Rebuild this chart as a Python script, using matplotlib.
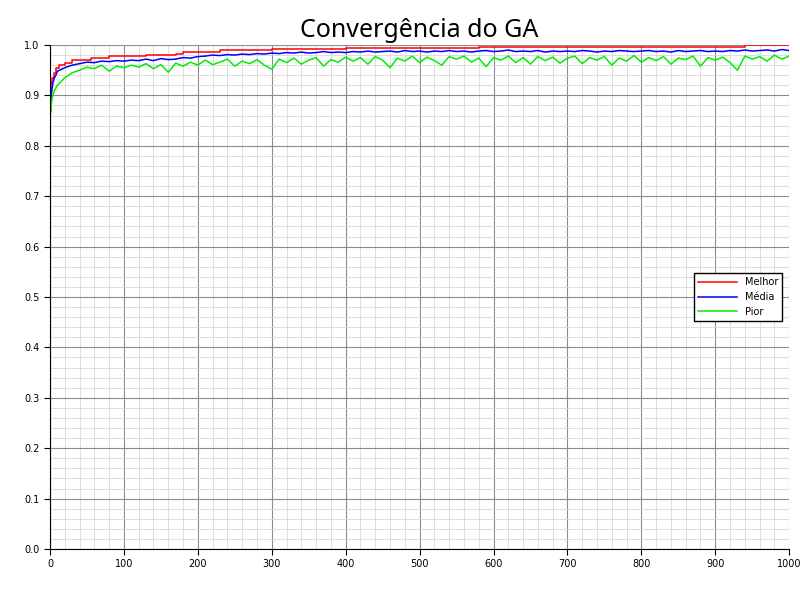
import numpy as np
import matplotlib.pyplot as plt
from matplotlib.ticker import MultipleLocator

# generations: a few early points then every 10
gen_early = [0, 1, 2, 3, 4, 5, 6, 8]
gen = gen_early + list(range(10, 1001, 10))

media = [0.86, 0.89, 0.905, 0.915, 0.925, 0.93, 0.935, 0.94,
         0.948, 0.955, 0.960, 0.963, 0.966, 0.965, 0.968, 0.967, 0.969, 0.968,
         0.970, 0.969, 0.972, 0.969, 0.973, 0.971, 0.972, 0.975, 0.974, 0.977,
         0.978, 0.980, 0.979, 0.981, 0.980, 0.982, 0.981, 0.983, 0.982, 0.984,
         0.983, 0.985, 0.984, 0.986, 0.984, 0.985, 0.987, 0.985, 0.986, 0.985,
         0.987, 0.986, 0.988, 0.986, 0.987, 0.988, 0.986, 0.989, 0.987, 0.988,
         0.986, 0.988, 0.987, 0.989, 0.987, 0.988, 0.986, 0.988, 0.989, 0.987,
         0.988, 0.990, 0.987, 0.988, 0.987, 0.989, 0.986, 0.988, 0.987, 0.988,
         0.987, 0.989, 0.988, 0.986, 0.988, 0.987, 0.989, 0.988, 0.987, 0.988,
         0.989, 0.987, 0.988, 0.986, 0.989, 0.987, 0.988, 0.989, 0.987, 0.988,
         0.987, 0.989, 0.988, 0.990, 0.988, 0.989, 0.990, 0.988, 0.991, 0.989]

pior = [0.845, 0.87, 0.885, 0.895, 0.90, 0.905, 0.91, 0.915,
        0.92, 0.935, 0.945, 0.950, 0.956, 0.953, 0.960, 0.948, 0.958, 0.955,
        0.960, 0.956, 0.963, 0.953, 0.961, 0.946, 0.964, 0.958, 0.966, 0.960,
        0.970, 0.961, 0.966, 0.972, 0.958, 0.968, 0.963, 0.971, 0.960, 0.952,
        0.972, 0.965, 0.974, 0.962, 0.970, 0.975, 0.958, 0.971, 0.966, 0.976,
        0.968, 0.975, 0.962, 0.977, 0.970, 0.955, 0.974, 0.968, 0.978, 0.965,
        0.976, 0.969, 0.960, 0.977, 0.972, 0.978, 0.966, 0.974, 0.957, 0.975,
        0.970, 0.978, 0.965, 0.975, 0.962, 0.977, 0.969, 0.976, 0.964, 0.974,
        0.978, 0.963, 0.975, 0.970, 0.977, 0.960, 0.974, 0.968, 0.979, 0.966,
        0.975, 0.969, 0.977, 0.962, 0.974, 0.971, 0.978, 0.958, 0.975, 0.970,
        0.976, 0.965, 0.950, 0.978, 0.972, 0.977, 0.968, 0.980, 0.972, 0.978]

# best fitness changes as steps
gen_melhor = [0, 1, 2, 3, 5, 8, 12, 20, 30, 55, 80, 130, 170, 180, 230, 300, 400, 460, 580, 940, 1000]
melhor = [0.87, 0.905, 0.925, 0.935, 0.945, 0.955, 0.96, 0.965, 0.97, 0.975, 0.978, 0.98,
          0.983, 0.986, 0.99, 0.992, 0.994, 0.995, 0.997, 1.0, 1.0]

fig = plt.figure(figsize=(8, 6), dpi=100)
ax = fig.add_axes([0.0625, 0.085, 0.924, 0.84])

ax.plot(gen_melhor, melhor, color="red", lw=1.1, drawstyle="steps-post", label="Melhor")
ax.plot(gen, media, color="blue", lw=1.1, label="Média")
ax.plot(gen, pior, color="#00ee00", lw=1.1, label="Pior")

ax.set_xlim(0, 1000)
ax.set_ylim(0, 1.0)
ax.xaxis.set_major_locator(MultipleLocator(100))
ax.xaxis.set_minor_locator(MultipleLocator(20))
ax.yaxis.set_major_locator(MultipleLocator(0.1))
ax.yaxis.set_minor_locator(MultipleLocator(0.02))
ax.grid(which="major", color="#8c8c8c", lw=0.8)
ax.grid(which="minor", color="#d8d8d8", lw=0.6)
ax.set_axisbelow(True)
ax.tick_params(labelsize=7, direction="out", length=4)
ax.tick_params(which="minor", length=0)
for s in ["top", "right"]:
    ax.spines[s].set_visible(False)

ax.set_title("Convergência do GA", fontsize=18, family="Noto Sans")
leg = ax.legend(loc="center right", bbox_to_anchor=(0.997, 0.5), fontsize=7,
                fancybox=False, edgecolor="black", framealpha=1, handlelength=4)
leg.get_frame().set_linewidth(1)

fig.savefig("out.png")
